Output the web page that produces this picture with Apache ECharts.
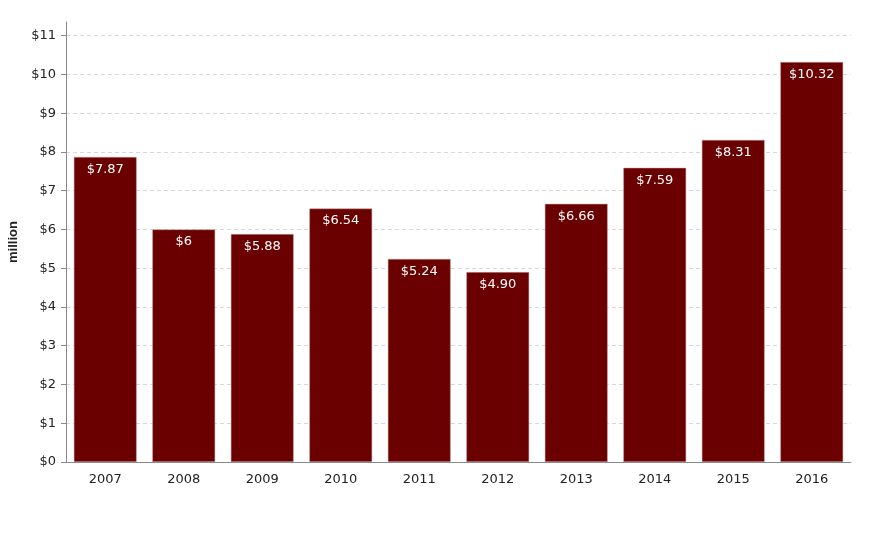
<!DOCTYPE html>
<html><head><meta charset="utf-8">
<script src="https://cdn.jsdelivr.net/npm/echarts@6/dist/echarts.min.js"></script>
<style>html,body{margin:0;padding:0;background:#fff}#c{width:879px;height:540px}</style>
</head><body><div id="c"></div>
<script>
const years = ['2007','2008','2009','2010','2011','2012','2013','2014','2015','2016'];
const values = [7.87, 6, 5.88, 6.54, 5.24, 4.90, 6.66, 7.59, 8.31, 10.32];
const valueLabels = ['$7.87','$6','$5.88','$6.54','$5.24','$4.90','$6.66','$7.59','$8.31','$10.32'];
const yTicks = [0,1,2,3,4,5,6,7,8,9,10,11];
const yAxisTitle = 'million';

const font = '"DejaVu Sans", sans-serif';
const chart = echarts.init(document.getElementById('c'));
chart.setOption({
  animation: false,
  grid: {left: 66, right: 28, top: 22, bottom: 78, containLabel: false, outerBoundsMode: 'none'},
  xAxis: {
    type: 'category', data: years,
    axisLine: {lineStyle: {color: '#888', width: 1}},
    axisTick: {alignWithLabel: true, length: 5, lineStyle: {color: '#888'}},
    axisLabel: {color: '#222', fontSize: 13, fontFamily: font, margin: 11}
  },
  yAxis: {
    type: 'value', min: 0, max: 10.32 * 1.1, interval: 1,
    name: yAxisTitle, nameLocation: 'middle', nameGap: 44, nameRotate: 90,
    nameTextStyle: {fontWeight: 'bold', fontSize: 13, color: '#222', fontFamily: '"Liberation Sans", Arial, sans-serif'},
    axisLine: {show: true, lineStyle: {color: '#888', width: 1}},
    axisTick: {show: true, length: 5, lineStyle: {color: '#888'}, customValues: yTicks},
    axisLabel: {color: '#222', fontSize: 13, fontFamily: font, margin: 10,
      customValues: yTicks, formatter: v => '$' + v},
    splitLine: {show: true, showMaxLine: true, showMinLine: false,
      lineStyle: {color: '#d8d8d8', type: [4, 3], width: 1}}
  },
  series: [{
    type: 'bar', data: values, barCategoryGap: '20%',
    itemStyle: {color: '#6b0000', borderColor: '#c9a0a0', borderWidth: 0.5},
    label: {show: true, position: 'insideTop', distance: 6, color: '#fff', fontSize: 13,
      fontFamily: font, formatter: p => valueLabels[p.dataIndex]}
  }]
});
</script></body></html>
